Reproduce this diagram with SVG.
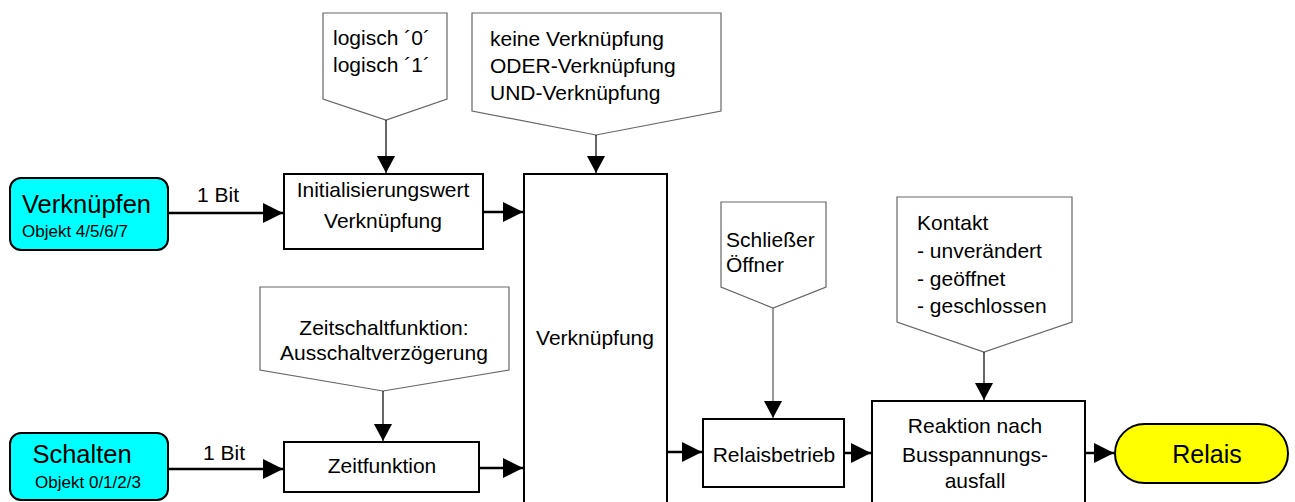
<svg xmlns="http://www.w3.org/2000/svg" width="1295" height="502" viewBox="0 0 1295 502">
<style>
text{font-family:"Liberation Sans",Arial,sans-serif;font-size:21px;fill:#000}
.c{text-anchor:middle}
.box{fill:#fff;stroke:#000;stroke-width:2}
.call{fill:#fff;stroke:#666;stroke-width:1.2}
.main{stroke:#000;stroke-width:2.5;fill:none}
.thin{stroke:#000;stroke-width:1.2;fill:none}
.gray{stroke:#777;stroke-width:1.5;fill:none}
</style>
<defs>
<marker id="ah" markerUnits="userSpaceOnUse" markerWidth="20" markerHeight="20" refX="20" refY="10" orient="auto"><path d="M0,0 L20,10 L0,20 z" fill="#000"/></marker>
<marker id="as" markerUnits="userSpaceOnUse" markerWidth="18" markerHeight="18" refX="17" refY="9" orient="auto"><path d="M0,0 L17,9 L0,18 z" fill="#000"/></marker>
</defs>
<rect width="1295" height="502" fill="#fff"/>
<g id="verknuepfen">
<rect x="10" y="178" width="158" height="72" rx="11" fill="#00ffff" stroke="#000" stroke-width="2"/>
<text x="22" y="213" style="font-size:25.5px">Verknüpfen</text>
<text x="22" y="237" style="font-size:17px">Objekt 4/5/6/7</text>
</g>
<g id="schalten">
<rect x="10" y="433" width="158" height="67" rx="11" fill="#00ffff" stroke="#000" stroke-width="2"/>
<text x="82" y="463" class="c" style="font-size:25.5px">Schalten</text>
<text x="88" y="488" class="c" style="font-size:17px">Objekt 0/1/2/3</text>
</g>
<g id="logisch">
<path class="call" d="M323,13 H447 V99 L386,120 L323,99 Z"/>
<text x="333" y="45">logisch ´0´</text>
<text x="333" y="72">logisch ´1´</text>
</g>
<g id="keine">
<path class="call" d="M472,13 H721 V111 L596,135 L472,111 Z"/>
<text x="490" y="46">keine Verknüpfung</text>
<text x="490" y="73">ODER-Verknüpfung</text>
<text x="490" y="100">UND-Verknüpfung</text>
</g>
<g id="init">
<rect class="box" x="284" y="174" width="199" height="75"/>
<text x="383" y="197" class="c">Initialisierungswert</text>
<text x="383" y="228" class="c">Verknüpfung</text>
</g>
<g id="zeitschalt">
<path class="call" d="M260,287 H509 V370 L383,391 L260,370 Z"/>
<text x="384" y="335" class="c">Zeitschaltfunktion:</text>
<text x="384" y="360" class="c">Ausschaltverzögerung</text>
</g>
<g id="zeitfunktion">
<rect class="box" x="284" y="442" width="195" height="50"/>
<text x="382" y="473" class="c">Zeitfunktion</text>
</g>
<g id="verknuepfung">
<rect class="box" x="524" y="174" width="143" height="340"/>
<text x="595" y="345" class="c">Verknüpfung</text>
</g>
<g id="schliesser">
<path class="call" d="M721,202 H826 V287 L773,308 L721,287 Z"/>
<text x="726" y="247">Schließer</text>
<text x="726" y="272">Öffner</text>
</g>
<g id="relaisbetrieb">
<rect class="box" x="703" y="419" width="141" height="68"/>
<text x="774" y="462" class="c">Relaisbetrieb</text>
</g>
<g id="kontakt">
<path class="call" d="M897,197 H1072 V322 L984,352 L897,322 Z"/>
<text x="917" y="230">Kontakt</text>
<text x="917" y="258">- unverändert</text>
<text x="917" y="286">- geöffnet</text>
<text x="917" y="313">- geschlossen</text>
</g>
<g id="reaktion">
<rect class="box" x="872" y="401" width="213" height="120"/>
<text x="975" y="433" class="c">Reaktion nach</text>
<text x="975" y="462" class="c">Busspannungs-</text>
<text x="975" y="488" class="c">ausfall</text>
</g>
<g id="relais">
<rect x="1115" y="424" width="173" height="59" rx="29.5" fill="#ffff00" stroke="#000" stroke-width="2"/>
<text x="1207" y="463" class="c" style="font-size:25px">Relais</text>
</g>
<g id="connectors">
<path class="main" d="M168,213 H283" marker-end="url(#ah)"/>
<text x="218" y="202" class="c">1 Bit</text>
<path class="main" d="M168,469 H283" marker-end="url(#ah)"/>
<text x="224" y="460" class="c">1 Bit</text>
<path class="main" d="M483,212 H523" marker-end="url(#ah)"/>
<path class="main" d="M479,468 H523" marker-end="url(#ah)"/>
<path class="main" d="M667,452 H702" marker-end="url(#ah)"/>
<path class="main" d="M844,453 H871" marker-end="url(#ah)"/>
<path class="main" d="M1085,453 H1114" marker-end="url(#ah)"/>
<path class="thin" d="M386,120 V173" marker-end="url(#as)"/>
<path class="thin" d="M596,135 V173" marker-end="url(#as)"/>
<path class="thin" d="M383,391 V441" marker-end="url(#as)"/>
<path class="gray" d="M773,308 V418" marker-end="url(#as)"/>
<path class="thin" d="M984,352 V400" marker-end="url(#as)"/>
</g>
</svg>
